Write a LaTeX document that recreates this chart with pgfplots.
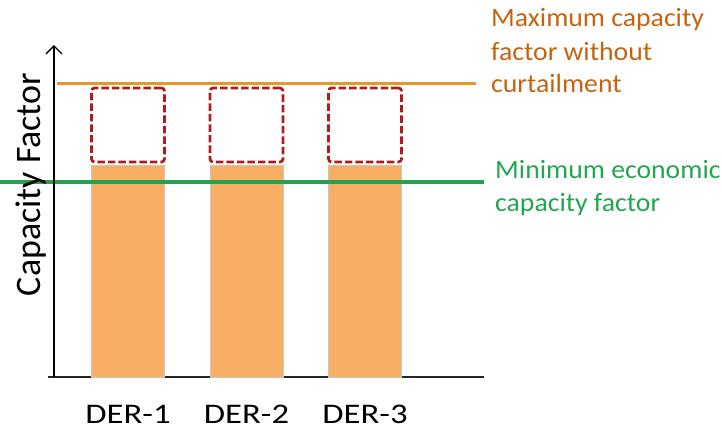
\documentclass[border=0pt]{standalone}
\usepackage{fontspec}
\setmainfont{Carlito}
\newfontfamily\notefont[FakeStretch=1.05]{Carlito}
\newfontfamily\tickfont[FakeStretch=1.22]{Carlito}
\usepackage{pgfplots}
\pgfplotsset{compat=1.18}
\usetikzlibrary{arrows.meta}

\definecolor{barorange}{HTML}{F9AF63}
\definecolor{maxline}{HTML}{E8962A}
\definecolor{maxtext}{HTML}{C5640F}
\definecolor{minline}{HTML}{28A050}
\definecolor{mintext}{HTML}{22A652}
\definecolor{boxred}{HTML}{AE1C1C}

% same frame for both axes; y measured in px above the x axis
\pgfplotsset{frame/.style={
    at={(48bp,54bp)}, anchor=south west,
    scale only axis, width=436bp, height=332bp,
    xmin=0.325, xmax=4.004, ymin=0, ymax=332,
    clip=false,
}}

\begin{document}
\begin{tikzpicture}
  \useasboundingbox (0,0) rectangle (722bp,431bp);

  \begin{axis}[
      frame,
      axis x line*=bottom, axis y line=none,
      x axis line style={line width=1.4bp, black!85},
      xtick={1,2,3}, xticklabels={DER-1,DER-2,DER-3},
      major tick length=0pt,
      xticklabel style={font=\tickfont\fontsize{28.5}{30}\selectfont, anchor=base, yshift=-46.5bp},
      ytick=\empty,
      ybar stacked, bar width=73bp,
    ]
    % capacity factor reached
    \addplot[fill=barorange, draw=gray!45, line width=0.6bp]
      coordinates {(1,212) (2,212) (3,212)};
    % gap
    \addplot[draw=none, fill=none]
      coordinates {(1,3) (2,3) (3,3)};
    % curtailed part
    \addplot[fill=none, draw=boxred, line width=2.7bp,
             dash pattern=on 7.5bp off 3bp, rounded corners=3bp]
      coordinates {(1,74) (2,74) (3,74)};
  \end{axis}

  \begin{axis}[frame, hide axis]
    % maximum capacity factor without curtailment
    \addplot[maxline, line width=3bp, no marks]
      coordinates {(0.401,293) (3.937,293)};
    % minimum economic capacity factor
    \addplot[minline, line width=3.3bp, no marks]
      coordinates {(-0.08,195) (4.004,195)};
    % y axis with arrow
    \draw[line width=1.3bp, black,
          -{Straight Barb[length=8bp,width=16bp,line width=1.3bp]}]
      (axis cs:0.3755,0) -- (axis cs:0.3755,332);
  \end{axis}

  \node[rotate=90, anchor=base, font=\fontsize{36}{40}\selectfont]
    at (40bp,246.5bp) {Capacity Factor};

  \begin{scope}[every node/.style={anchor=base west, inner sep=0pt,
                 font=\notefont\fontsize{26.5}{30}\selectfont}]
    \node[text=maxtext] at (491bp,404bp) {Maximum capacity};
    \node[text=maxtext] at (491bp,370bp) {factor without};
    \node[text=maxtext] at (491bp,338bp) {curtailment};
    \node[text=mintext] at (495bp,252bp) {Minimum economic};
    \node[text=mintext] at (495bp,219bp) {capacity factor};
  \end{scope}
\end{tikzpicture}
\end{document}
